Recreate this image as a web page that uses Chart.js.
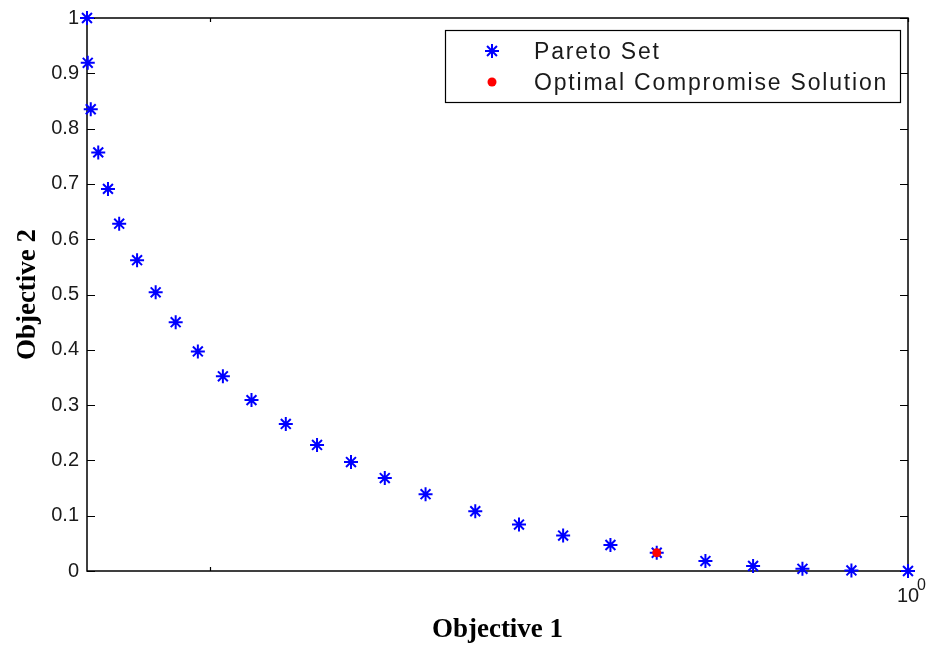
<!DOCTYPE html>
<html>
<head>
<meta charset="utf-8">
<script src="https://cdn.jsdelivr.net/npm/chart.js@4/dist/chart.umd.min.js"></script>
<style>
  html, body { margin: 0; padding: 0; background: #fff; }
  canvas { display: block; }
</style>
</head>
<body>
<canvas id="c" width="928" height="651"></canvas>
<script>
// Pareto front: objective values of each solution
const objective1 = [0.8835, 0.8836, 0.8840, 0.8850, 0.8863, 0.8878, 0.8902, 0.8927, 0.8954,
                    0.8984, 0.9018, 0.9057, 0.9104, 0.9147, 0.9194, 0.9241, 0.9298, 0.9368,
                    0.9430, 0.9493, 0.9561, 0.9628, 0.9699, 0.9769, 0.9842, 0.9915, 1.0000];
const objective2 = [1.000, 0.919, 0.835, 0.757, 0.691, 0.628, 0.562, 0.504, 0.450,
                    0.397, 0.352, 0.309, 0.266, 0.228, 0.197, 0.168, 0.139, 0.108,
                    0.084, 0.064, 0.047, 0.033, 0.018, 0.009, 0.004, 0.001, 0.000];
// Selected compromise solution
const compromise1 = [0.9628];
const compromise2 = [0.033];

const seriesNames = ['Pareto Set', 'Optimal Compromise Solution'];
const axisTitles = ['Objective 1', 'Objective 2'];
const xTickValues = [0.9, 1];
const xTickLabels = ['', '10'];
const xTickExponent = '0';
const yTickValues = [0, 0.1, 0.2, 0.3, 0.4, 0.5, 0.6, 0.7, 0.8, 0.9, 1];
const yTickLabels = ['0', '0.1', '0.2', '0.3', '0.4', '0.5', '0.6', '0.7', '0.8', '0.9', '1'];

const INK = '#1a1a1a';
const SANS = "'Liberation Sans', Arial, sans-serif";
const SERIF = "'Liberation Serif', 'Times New Roman', serif";

const paretoPoints = objective1.map((x, i) => ({ x, y: objective2[i] }));
const compromisePoints = compromise1.map((x, i) => ({ x, y: compromise2[i] }));

// Box around the plot with inward tick marks on all four sides
const axesBox = {
  id: 'axesBox',
  beforeDatasetsDraw(chart) {
    const { ctx, chartArea: a, scales } = chart;
    ctx.save();
    ctx.strokeStyle = '#000';
    ctx.lineWidth = 1.5;
    ctx.strokeRect(a.left, a.top, a.right - a.left, a.bottom - a.top);
    ctx.lineWidth = 1.2;
    ctx.beginPath();
    yTickValues.forEach(v => {
      const y = Math.round(scales.y.getPixelForValue(v)) + 0.5;
      ctx.moveTo(a.left, y); ctx.lineTo(a.left + 8, y);
      ctx.moveTo(a.right, y); ctx.lineTo(a.right - 8, y);
    });
    xTickValues.forEach(v => {
      const x = Math.round(scales.x.getPixelForValue(v)) + 0.5;
      ctx.moveTo(x, a.bottom); ctx.lineTo(x, a.bottom - 4);
      ctx.moveTo(x, a.top); ctx.lineTo(x, a.top + 4);
    });
    ctx.stroke();
    ctx.restore();
  },
  afterDraw(chart) {
    // exponent of the 10^0 tick label
    const { ctx, scales, chartArea: a } = chart;
    const x = scales.x.getPixelForValue(1);
    ctx.save();
    ctx.fillStyle = INK;
    ctx.font = '16px ' + SANS;
    ctx.textAlign = 'left';
    ctx.textBaseline = 'middle';
    ctx.fillText(xTickExponent, x + 9, a.bottom + 15);
    ctx.restore();
  }
};

// Boxed legend in the upper right corner of the plot
const boxedLegend = {
  id: 'boxedLegend',
  afterDraw(chart) {
    const { ctx, chartArea: a } = chart;
    const w = 455, h = 72;
    const x0 = a.right - 8 - w, y0 = a.top + 12;
    ctx.save();
    ctx.fillStyle = '#fff';
    ctx.fillRect(x0, y0, w, h);
    ctx.strokeStyle = '#000';
    ctx.lineWidth = 1.2;
    ctx.strokeRect(x0 + 0.5, y0 + 0.5, w, h);
    const rows = [y0 + 21, y0 + 52];
    chart.data.datasets.forEach((ds, i) => {
      const cy = rows[i];
      ctx.save();
      ctx.strokeStyle = ds.borderColor;
      ctx.fillStyle = ds.backgroundColor;
      ctx.lineWidth = ds.pointBorderWidth;
      Chart.helpers.drawPoint(ctx, {
        pointStyle: ds.pointStyle, radius: ds.pointRadius,
        borderWidth: ds.pointBorderWidth, rotation: 0
      }, x0 + 47, cy);
      ctx.restore();
      ctx.save();
      ctx.fillStyle = INK;
      ctx.font = '23px ' + SANS;
      ctx.letterSpacing = '1.8px';
      ctx.textAlign = 'left';
      ctx.textBaseline = 'alphabetic';
      ctx.fillText(ds.label, x0 + 89, cy + 8);
      ctx.restore();
    });
    ctx.restore();
  }
};

new Chart(document.getElementById('c'), {
  type: 'scatter',
  data: {
    datasets: [
      {
        label: seriesNames[0],
        data: paretoPoints,
        pointStyle: 'star',
        pointRadius: 7,
        pointBorderWidth: 2,
        borderColor: '#0000ff',
        backgroundColor: '#0000ff',
        order: 2,
        clip: false
      },
      {
        label: seriesNames[1],
        data: compromisePoints,
        pointStyle: 'circle',
        pointRadius: 4.5,
        pointBorderWidth: 0,
        borderColor: '#ff0000',
        backgroundColor: '#ff0000',
        order: 1,
        clip: false
      }
    ]
  },
  options: {
    responsive: false,
    animation: false,
    layout: { padding: { top: 18, right: 20, bottom: 0, left: 0 } },
    plugins: { legend: { display: false }, tooltip: { enabled: false } },
    scales: {
      x: {
        type: 'logarithmic',
        bounds: 'data',
        min: 0.8835,
        max: 1,
        grid: { display: false, drawTicks: false },
        border: { display: false },
        afterBuildTicks: s => { s.ticks = xTickValues.map(v => ({ value: v })); },
        afterFit: s => { s.height = 80; s.paddingLeft = 0; s.paddingRight = 0; },
        ticks: {
          autoSkip: false,
          maxRotation: 0,
          padding: 13,
          color: INK,
          font: { family: SANS, size: 20 },
          callback: v => xTickLabels[xTickValues.indexOf(v)] ?? ''
        },
        title: {
          display: true,
          text: axisTitles[0],
          color: '#000',
          font: { family: SERIF, size: 27, weight: 'bold' },
          padding: { top: 0, bottom: 5 }
        }
      },
      y: {
        min: 0,
        max: 1,
        grid: { display: false, drawTicks: false },
        border: { display: false },
        afterBuildTicks: s => { s.ticks = yTickValues.map(v => ({ value: v })); },
        afterFit: s => { s.width = 87; s.paddingTop = 0; s.paddingBottom = 0; },
        ticks: {
          autoSkip: false,
          padding: 8,
          color: INK,
          font: { family: SANS, size: 20 },
          callback: v => yTickLabels[yTickValues.indexOf(v)] ?? ''
        },
        title: {
          display: true,
          text: axisTitles[1],
          color: '#000',
          font: { family: SERIF, size: 27, weight: 'bold' },
          padding: { top: 12, bottom: 0 }
        }
      }
    }
  },
  plugins: [axesBox, boxedLegend]
});
</script>
</body>
</html>
